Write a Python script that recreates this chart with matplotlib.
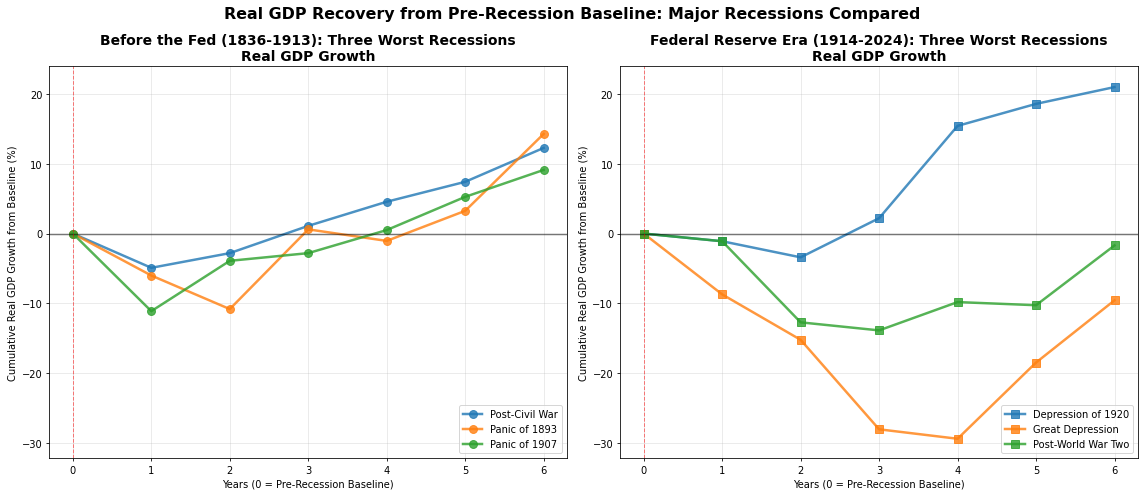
import matplotlib
matplotlib.use("Agg")
import matplotlib.pyplot as plt

years = [0, 1, 2, 3, 4, 5, 6]

pre_fed_names = ["Post-Civil War", "Panic of 1893", "Panic of 1907"]
post_civil_war = [0, -4.9, -2.8, 1.1, 4.55, 7.4, 12.25]
panic_1893 = [0, -6.0, -10.8, 0.6, -1.05, 3.25, 14.25]
panic_1907 = [0, -11.1, -3.9, -2.8, 0.5, 5.25, 9.1]

fed_names = ["Depression of 1920", "Great Depression", "Post-World War Two"]
depression_1920 = [0, -1.1, -3.4, 2.2, 15.4, 18.55, 20.95]
great_depression = [0, -8.7, -15.2, -28.0, -29.35, -18.45, -9.55]
post_ww2 = [0, -1.1, -12.7, -13.85, -9.8, -10.25, -1.7]

colors = ["#1f77b4", "#ff7f0e", "#2ca02c"]

fig, axes = plt.subplots(1, 2, figsize=(16, 6.95), dpi=71.5)

panels = [
    (axes[0], "Before the Fed (1836-1913): Three Worst Recessions\nReal GDP Growth",
     pre_fed_names, [post_civil_war, panic_1893, panic_1907], "o"),
    (axes[1], "Federal Reserve Era (1914-2024): Three Worst Recessions\nReal GDP Growth",
     fed_names, [depression_1920, great_depression, post_ww2], "s"),
]

for ax, title, names, series, marker in panels:
    for name, vals, c in zip(names, series, colors):
        ax.plot(years, vals, marker=marker, color=c, linewidth=2.5,
                markersize=8, alpha=0.8, label=name)
    ax.axhline(0, color="black", alpha=0.5, linewidth=1.5)
    ax.axvline(0, color="red", linestyle="--", alpha=0.5, linewidth=1)
    ax.set_title(title, fontsize=14, fontweight="bold")
    ax.set_xlabel("Years (0 = Pre-Recession Baseline)")
    ax.set_ylabel("Cumulative Real GDP Growth from Baseline (%)")
    ax.set_ylim(-32.1, 24.0)
    ax.set_xticks(years)
    ax.grid(True, alpha=0.3)
    ax.legend(loc="lower right")

fig.suptitle("Real GDP Recovery from Pre-Recession Baseline: Major Recessions Compared",
             fontsize=16, fontweight="bold", y=0.986)
fig.subplots_adjust(left=0.0431, right=0.9948, top=0.8658, bottom=0.0765, wspace=0.1023)
fig.savefig("out.png", dpi=71.5)
